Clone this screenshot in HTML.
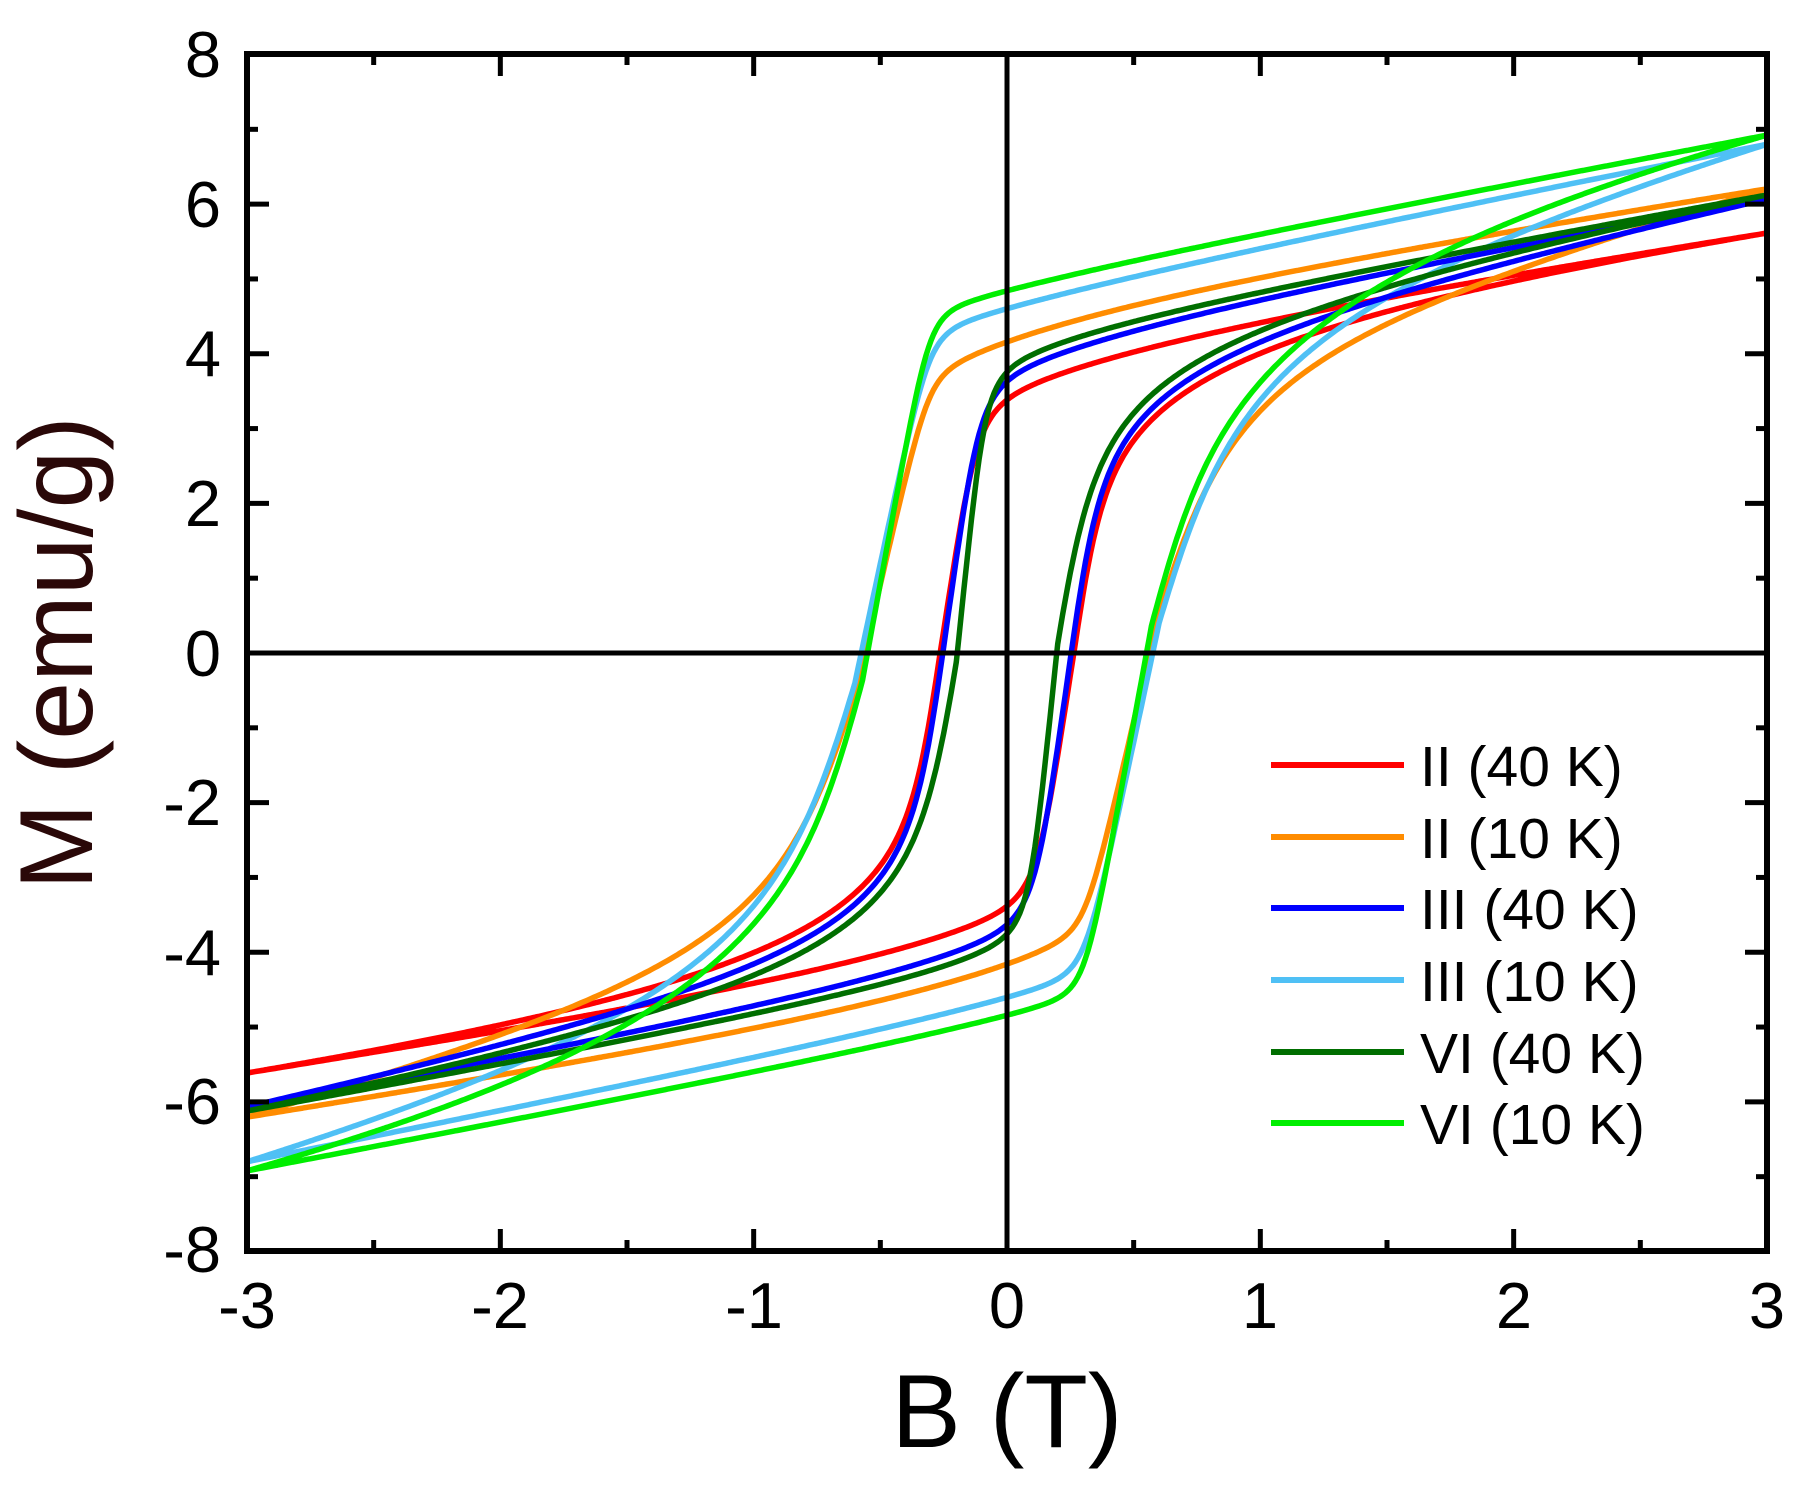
<!DOCTYPE html>
<html><head><meta charset="utf-8"><style>
html,body{margin:0;padding:0;background:#fff;}
svg{display:block;}
text{font-family:"Liberation Sans",Arial,sans-serif;fill:#000;}
</style></head><body>
<svg id="s" width="1803" height="1493" viewBox="0 0 1803 1493" xmlns="http://www.w3.org/2000/svg">
<g id="curves" fill="none" stroke-width="5.5" stroke-linejoin="round"></g>
<line x1="1007" y1="54" x2="1007" y2="1251" stroke="#000" stroke-width="5"/>
<line x1="247" y1="653" x2="1767" y2="653" stroke="#000" stroke-width="5"/>
<rect x="247" y="54" width="1520" height="1197" fill="none" stroke="#000" stroke-width="6"/>
<g id="ticks" stroke="#000" stroke-width="5"></g>
<g font-size="65" text-anchor="end">
<text x="221" y="77">8</text><text x="221" y="227">6</text><text x="221" y="376">4</text><text x="221" y="526">2</text><text x="221" y="676">0</text><text x="221" y="825">-2</text><text x="221" y="975">-4</text><text x="221" y="1124">-6</text><text x="221" y="1272">-8</text>
</g>
<g font-size="65" text-anchor="middle">
<text x="247" y="1328">-3</text><text x="500" y="1328">-2</text><text x="754" y="1328">-1</text><text x="1007" y="1328">0</text><text x="1260" y="1328">1</text><text x="1514" y="1328">2</text><text x="1767" y="1328">3</text>
</g>
<text x="1007" y="1447" font-size="104" text-anchor="middle">B (T)</text>
<text transform="translate(92,653) rotate(-90)" font-size="104" text-anchor="middle" style="fill:#2a0808">M (emu/g)</text>
<g stroke-width="6">
<line x1="1271" y1="765" x2="1404" y2="765" stroke="#ff0000"/>
<line x1="1271" y1="837" x2="1404" y2="837" stroke="#ff8c00"/>
<line x1="1271" y1="908" x2="1404" y2="908" stroke="#0000ff"/>
<line x1="1271" y1="980" x2="1404" y2="980" stroke="#4fc0f5"/>
<line x1="1271" y1="1052" x2="1404" y2="1052" stroke="#006e00"/>
<line x1="1271" y1="1123" x2="1404" y2="1123" stroke="#00ee00"/>
</g>
<g font-size="57">
<text x="1420" y="786">II (40 K)</text>
<text x="1420" y="858">II (10 K)</text>
<text x="1420" y="929">III (40 K)</text>
<text x="1420" y="1001">III (10 K)</text>
<text x="1420" y="1073">VI (40 K)</text>
<text x="1420" y="1144">VI (10 K)</text>
</g>
</svg>
<script>
var X=function(b){return 1007+b*253.33;}, Y=function(m){return 653-m*74.81;};
var t=document.getElementById('ticks'),h='';
for(var b=-3;b<=3.001;b+=0.5){var L=(Math.abs(b-Math.round(b))<0.01)?22:11;var x=X(b);
h+='<line x1="'+x+'" y1="1251" x2="'+x+'" y2="'+(1251-L)+'"/><line x1="'+x+'" y1="54" x2="'+x+'" y2="'+(54+L)+'"/>';}
for(var m=-8;m<=8;m+=1){var L=(m%2==0)?22:11;var y=Y(m);
h+='<line x1="247" y1="'+y+'" x2="'+(247+L)+'" y2="'+y+'"/><line x1="1767" y1="'+y+'" x2="'+(1767-L)+'" y2="'+y+'"/>';}
t.innerHTML=h;
function g(x,P,N){var p=x>=0?P:N;var ax=Math.abs(x);
 return p[0]*x/Math.pow(Math.pow(ax,p[2])+Math.pow(p[1],p[2]),1/p[2])+p[3]*x/(ax+p[4]);}
var S=[
 {c:'#ff0000',Hc:0.27,chi:0.5,P:[3.1,0.16,4,1.2,0.6],N:[2.0,0.12,2,2.6,0.5]},
 {c:'#ff8c00',Hc:0.58,chi:0.5,P:[3.3,0.28,8,1.6,0.5],N:[1.8,0.3,2,3.0,0.6]},
 {c:'#4fc0f5',Hc:0.6,chi:0.66,P:[4.25,0.3,8,0.65,0.5],N:[1.8,0.3,2,3.8,0.8]},
 {c:'#0000ff',Hc:0.26,chi:0.6,P:[3.4,0.16,4,1.0,0.5],N:[2.0,0.12,2,2.4,0.4]},
 {c:'#006e00',Hc:0.2,chi:0.6,P:[3.5,0.12,4,0.9,0.3],N:[2.0,0.15,2,2.6,0.4]},
 {c:'#00ee00',Hc:0.57,chi:0.63,P:[4.55,0.27,8,0.55,0.5],N:[1.6,0.25,2,4.6,0.8]}
];
var out='';
S.forEach(function(s){
 function raw(B){return s.chi*B+g(B+s.Hc,s.P,s.N);}
 var d0=raw(3)+raw(-3);
 function up(B){var f=Math.max(0,(-s.Hc-B)/(3-s.Hc));return raw(B)-d0*Math.pow(f,1.5);}
 var d='';
 for(var i=0;i<=600;i++){var B=3-i*0.01;d+=(i?'L':'M')+X(B).toFixed(1)+' '+Y(up(B)).toFixed(1);}
 for(var i=0;i<=600;i++){var B=-3+i*0.01;d+='L'+X(B).toFixed(1)+' '+Y(-up(-B)).toFixed(1);}
 out+='<path d="'+d+'" stroke="'+s.c+'"/>';
});
document.getElementById('curves').innerHTML=out;
</script>
</body></html>
